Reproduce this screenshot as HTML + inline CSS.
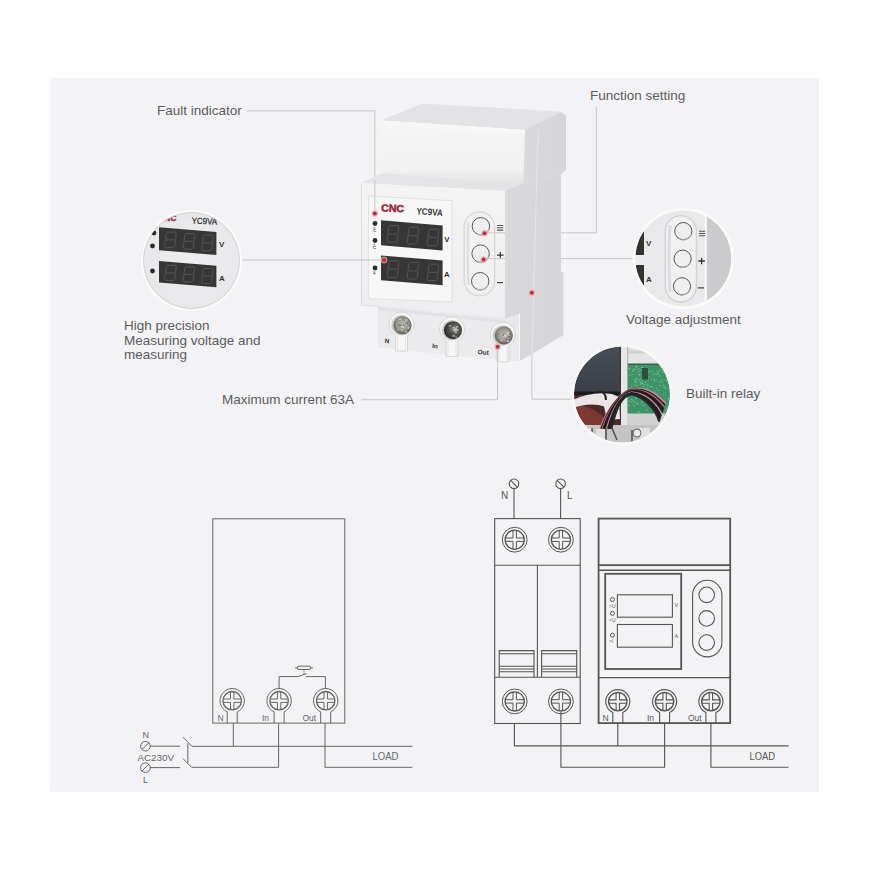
<!DOCTYPE html>
<html><head><meta charset="utf-8">
<style>
html,body{margin:0;padding:0;background:#fff;width:870px;height:870px;overflow:hidden}
svg{position:absolute;left:0;top:0}
text{font-family:"Liberation Sans",sans-serif}
</style></head><body>
<svg width="870" height="870" viewBox="0 0 870 870">
<defs>
  <linearGradient id="gSide" x1="0" y1="0" x2="1" y2="0">
    <stop offset="0" stop-color="#d9d9db"/><stop offset="1" stop-color="#d6d6d8"/>
  </linearGradient>
  <linearGradient id="gUpFront" x1="0" y1="0" x2="0" y2="1">
    <stop offset="0" stop-color="#f6f6f7"/><stop offset="0.8" stop-color="#f1f1f2"/><stop offset="1" stop-color="#e3e3e5"/>
  </linearGradient>
  <linearGradient id="gLowFront" x1="0" y1="0" x2="0" y2="1">
    <stop offset="0" stop-color="#f4f4f5"/><stop offset="1" stop-color="#eeeef0"/>
  </linearGradient>
  <radialGradient id="gCircle" cx="0.5" cy="0.5" r="0.5">
    <stop offset="0" stop-color="#eeeef0"/><stop offset="1" stop-color="#e8e8ea"/>
  </radialGradient>
  <radialGradient id="gScrew" cx="0.5" cy="0.45" r="0.55">
    <stop offset="0" stop-color="#b8b8b0"/><stop offset="0.6" stop-color="#9a9a92"/><stop offset="1" stop-color="#55554f"/>
  </radialGradient>
  <radialGradient id="gScrewD" cx="0.6" cy="0.45" r="0.6">
    <stop offset="0" stop-color="#a8a8a2"/><stop offset="0.45" stop-color="#5a5a56"/><stop offset="1" stop-color="#262624"/>
  </radialGradient>
  <linearGradient id="gDark" x1="0" y1="0" x2="0" y2="1">
    <stop offset="0" stop-color="#4a5058"/><stop offset="1" stop-color="#3a3f47"/>
  </linearGradient>
  <filter id="fSoft" x="-5%" y="-5%" width="110%" height="110%"><feGaussianBlur stdDeviation="0.45"/></filter>
  <clipPath id="cL"><circle cx="191.5" cy="260.5" r="48"/></clipPath>
  <clipPath id="cR"><circle cx="683.3" cy="258.5" r="48"/></clipPath>
  <clipPath id="cB"><circle cx="622" cy="394.6" r="48"/></clipPath>
</defs>
<rect x="50" y="78" width="769" height="714" fill="#f3f3f5"/>

<g stroke="#c6c6c8" stroke-width="1" fill="none">
<polyline points="246.5,110.9 374.8,110.9 374.8,212"/>
<polyline points="240,260 382,260"/>
<polyline points="361,399.7 497.6,399.7 497.6,349"/>
<polyline points="486,232.8 596.3,232.8 596.3,106.6"/>
<polyline points="486,258.6 635,258.6"/>
<polyline points="531.8,295 531.8,399.2 574,399.2"/>
</g>
<g id="device">
<polygon points="381,120.5 422,103.4 559,111.5 564,114 525,130" fill="#e3e3e5"/>
<polygon points="381,120.5 525,130 523.5,183 381,173.4" fill="url(#gUpFront)"/>
<polygon points="381,120.5 525,130 525,134 381,125" fill="#f8f8f9"/>
<polygon points="525,130 561,112 566,115.5 566,170 561,174.6 523.5,183" fill="url(#gSide)"/>
<polygon points="361,183 381,173.4 523.5,183 505,191" fill="#e4e4e6"/>
<polygon points="505,191 523.5,183 561,174.6 561,272 563.5,272 563.5,335 521,360.5 505,360.5" fill="url(#gSide)"/>
<polygon points="361,183 505,191 505,319 361,305" fill="url(#gLowFront)"/>
<polyline points="361.5,184 361.5,305 505,319" fill="none" stroke="#dedee0" stroke-width="1"/>
<polygon points="368.6,196 452,200.7 452,302 368.6,298.6" fill="#f7f7f8" stroke="#dcdcde" stroke-width="0.8"/>
<polygon points="378,305 505,319 520,314 520,360.5 505,360.5 378,347.5" fill="#ebebed"/>
<polygon points="505,319 520,314 520,360.5 505,360.5" fill="#e9e9eb"/>
<line x1="519.5" y1="314" x2="519.5" y2="360" stroke="#f7f7f8" stroke-width="1"/>
<polygon points="378,307 505,320 505,323 378,310" fill="#e2e2e4"/>
<path d="M395.5,351.0145 V335.3 A12.4,12.4 0 1 1 407.5,335.3 V351.0145 Z" fill="#f6f6f7" stroke="#d2d2d4" stroke-width="0.9"/>
<path d="M397.5,350.0145 V336.3 M405.5,336.3 V350.0145" stroke="#dedee0" stroke-width="0.8"/>
<circle cx="401.5" cy="325.3" r="10.2" fill="#c9c9cb"/>
<circle cx="402.5" cy="325.3" r="9" fill="url(#gScrew)"/>
<path d="M405.2,320.0h2.2M396.9,329.8h1.3M405.2,331.8h2.0M407.6,327.8h2.0M398.6,319.2h2.4M401.0,330.1h1.2M401.3,325.1h1.7M401.0,326.6h2.3M403.7,320.8h2.1M402.5,327.3h1.5" stroke="#e6e6de" stroke-width="1.3" opacity="0.75"/>
<path d="M399.3,325.3h1.4M403.8,320.4h1.4M402.4,325.3h1.4M400.8,325.0h1.4M406.5,323.4h1.4M398.6,325.1h1.4" stroke="#3c3c38" stroke-width="1.2" opacity="0.6"/>
<path d="M446,356.418 V340.2 A12.4,12.4 0 1 1 458,340.2 V356.418 Z" fill="#f6f6f7" stroke="#d2d2d4" stroke-width="0.9"/>
<path d="M448,355.418 V341.2 M456,341.2 V355.418" stroke="#dedee0" stroke-width="0.8"/>
<circle cx="452" cy="330.2" r="10.2" fill="#c9c9cb"/>
<circle cx="453" cy="330.2" r="9" fill="url(#gScrewD)"/>
<path d="M452.9,327.7h1.5M454.3,329.5h1.8M456.0,326.7h1.7M456.7,330.1h1.4M455.2,332.4h2.2M452.5,336.0h2.1M455.4,329.4h2.0M448.9,325.8h1.9M454.0,330.6h1.3M455.5,337.1h1.4" stroke="#e6e6de" stroke-width="1.3" opacity="0.75"/>
<path d="M450.3,334.3h1.4M453.5,325.0h1.4M452.7,333.2h1.4M458.4,328.5h1.4M456.7,332.3h1.4M451.3,332.8h1.4" stroke="#3c3c38" stroke-width="1.2" opacity="0.6"/>
<path d="M496.8,361.85360000000003 V345.5 A12.4,12.4 0 1 1 508.8,345.5 V361.85360000000003 Z" fill="#f6f6f7" stroke="#d2d2d4" stroke-width="0.9"/>
<path d="M498.8,360.85360000000003 V346.5 M506.8,346.5 V360.85360000000003" stroke="#dedee0" stroke-width="0.8"/>
<circle cx="502.8" cy="335.5" r="10.2" fill="#c9c9cb"/>
<circle cx="503.8" cy="335.5" r="9" fill="url(#gScrew)"/>
<path d="M500.2,340.4h2.0M507.0,341.3h2.3M503.4,335.9h1.5M503.3,334.9h1.5M506.8,332.5h1.9M504.3,335.6h1.9M507.3,332.8h1.7M504.6,336.1h1.4M504.0,335.8h2.5M507.7,334.7h1.4" stroke="#e6e6de" stroke-width="1.3" opacity="0.75"/>
<path d="M502.5,335.5h1.4M508.5,336.7h1.4M503.1,333.9h1.4M505.6,339.0h1.4M509.2,333.9h1.4M497.2,334.0h1.4" stroke="#3c3c38" stroke-width="1.2" opacity="0.6"/>
<text x="384.5" y="343" font-size="6.5" font-weight="bold" fill="#333" transform="rotate(5 384.5 343)">N</text>
<text x="432" y="348" font-size="6.5" font-weight="bold" fill="#333" transform="rotate(5 432 348)">In</text>
<text x="477.5" y="354" font-size="6.5" font-weight="bold" fill="#333" transform="rotate(5 477.5 354)">Out</text>
<polygon points="381,220.3 442.6,225.5 442.6,250.39999999999998 381,245.2" fill="#363636"/>
<path d="M390.0,225.7L398.0,225.7M398.8,227.0L398.1,233.2M397.9,234.8L397.2,240.9M388.0,242.2L396.0,242.2M387.9,234.8L387.2,240.9M388.8,227.0L388.1,233.2M389.0,234.0L397.0,234.0M410.0,227.4L418.0,227.4M418.8,228.7L418.1,234.8M417.9,236.5L417.2,242.6M408.0,243.9L416.0,243.9M407.9,236.5L407.2,242.6M408.8,228.7L408.1,234.8M409.0,235.7L417.0,235.7M430.0,229.1L438.0,229.1M438.8,230.4L438.1,236.5M437.9,238.2L437.2,244.3M428.0,245.6L436.0,245.6M427.9,238.2L427.2,244.3M428.8,230.4L428.1,236.5M429.0,237.4L437.0,237.4" stroke="#505050" stroke-width="1.2" fill="none" stroke-linecap="round"/>
<polygon points="381,255.5 442.6,260.5 442.6,285.3 381,280.3" fill="#363636"/>
<path d="M390.0,260.9L398.0,260.9M398.8,262.2L398.1,268.3M397.9,270.0L397.2,276.1M388.0,277.4L396.0,277.4M387.9,270.0L387.2,276.1M388.8,262.2L388.1,268.3M389.0,269.1L397.0,269.1M410.0,262.5L418.0,262.5M418.8,263.8L418.1,269.9M417.9,271.6L417.2,277.7M408.0,279.0L416.0,279.0M407.9,271.6L407.2,277.7M408.8,263.8L408.1,269.9M409.0,270.8L417.0,270.8M430.0,264.1L438.0,264.1M438.8,265.5L438.1,271.6M437.9,273.2L437.2,279.3M428.0,280.6L436.0,280.6M427.9,273.2L427.2,279.3M428.8,265.5L428.1,271.6M429.0,272.4L437.0,272.4" stroke="#505050" stroke-width="1.2" fill="none" stroke-linecap="round"/>
<text x="381" y="211.5" font-size="10.4" font-weight="bold" fill="#9e2638" stroke="#9e2638" stroke-width="0.5" textLength="23"  lengthAdjust="spacingAndGlyphs" transform="rotate(2 381 211.5)">CNC</text>
<text x="416.2" y="214.2" font-size="9.4" font-weight="bold" fill="#333" textLength="26.4" lengthAdjust="spacingAndGlyphs" transform="rotate(4 416 214)">YC9VA</text>
<text x="444.3" y="241.5" font-size="7.8" font-weight="bold" fill="#333">V</text>
<text x="444" y="277" font-size="7.8" font-weight="bold" fill="#333">A</text>
<circle cx="375" cy="223.5" r="2.4" fill="#2e2e2e"/>
<text x="372.4" y="231.0" font-size="4.2" fill="#444" font-weight="bold" transform="rotate(90 375 229.0)">&gt;U</text>
<circle cx="375" cy="240.5" r="2.4" fill="#2e2e2e"/>
<text x="372.4" y="248.0" font-size="4.2" fill="#444" font-weight="bold" transform="rotate(90 375 246.0)">&lt;U</text>
<circle cx="375" cy="268" r="2.4" fill="#2e2e2e"/>
<text x="372.4" y="275.5" font-size="4.2" fill="#444" font-weight="bold" transform="rotate(90 375 273.5)">&gt;I</text>
<rect x="464.2" y="211.9" width="30.5" height="83.9" rx="15.2" fill="#f1f1f2" stroke="#d6d6d8" stroke-width="1.3"/>
<path d="M468.5,222 Q467,253 468.5,285" stroke="#dfdfe1" stroke-width="2.5" fill="none"/>
<circle cx="480.9" cy="226.2" r="8.7" fill="#efeff0" stroke="#5a5a5a" stroke-width="1"/>
<path d="M488.9,229.7 A8.7,8.7 0 0 1 477.9,234.39999999999998" stroke="#b8b8b8" stroke-width="1.2" fill="none"/>
<circle cx="480.6" cy="253.6" r="8.7" fill="#efeff0" stroke="#5a5a5a" stroke-width="1"/>
<path d="M488.6,257.1 A8.7,8.7 0 0 1 477.6,261.8" stroke="#b8b8b8" stroke-width="1.2" fill="none"/>
<circle cx="480.2" cy="281.2" r="8.7" fill="#efeff0" stroke="#5a5a5a" stroke-width="1"/>
<path d="M488.2,284.7 A8.7,8.7 0 0 1 477.2,289.4" stroke="#b8b8b8" stroke-width="1.2" fill="none"/>
<path d="M497,225.5 h6.3 M497,227.8 h6.3 M497,230.1 h6.3" stroke="#555" stroke-width="1.1"/>
<path d="M497,255.2 h6.6 M500.3,252 v6.4" stroke="#333" stroke-width="1.2"/>
<path d="M497,282.6 h6" stroke="#444" stroke-width="1.2"/>
</g>
<g stroke="#c6c6c8" stroke-width="1" fill="none">
<line x1="374.8" y1="180" x2="374.8" y2="212"/>
<line x1="361" y1="260" x2="382" y2="260"/>
<line x1="486" y1="232.8" x2="505" y2="232.8"/>
<line x1="486" y1="258.6" x2="505" y2="258.6"/>
<line x1="497.6" y1="349" x2="497.6" y2="361"/>
</g>
<line x1="538" y1="130" x2="532" y2="360" stroke="#e4e4e6" stroke-width="1"/>
<circle cx="374.8" cy="213.6" r="3.4" fill="#f0a8a8" opacity="0.7"/>
<circle cx="374.8" cy="213.6" r="2" fill="#b83040"/>
<circle cx="384" cy="260" r="3.4" fill="#f0a8a8" opacity="0.7"/>
<circle cx="384" cy="260" r="2" fill="#b83040"/>
<circle cx="484.5" cy="233.2" r="3.4" fill="#f0a8a8" opacity="0.7"/>
<circle cx="484.5" cy="233.2" r="2" fill="#b83040"/>
<circle cx="483.6" cy="259.6" r="3.4" fill="#f0a8a8" opacity="0.7"/>
<circle cx="483.6" cy="259.6" r="2" fill="#b83040"/>
<circle cx="531.8" cy="292.7" r="3.4" fill="#f0a8a8" opacity="0.7"/>
<circle cx="531.8" cy="292.7" r="2" fill="#b83040"/>
<circle cx="497.6" cy="346.7" r="3.4" fill="#f0a8a8" opacity="0.7"/>
<circle cx="497.6" cy="346.7" r="2" fill="#b83040"/>
<g clip-path="url(#cL)">
<circle cx="191.5" cy="260.5" r="48" fill="url(#gCircle)"/>
<polygon points="159,227.2 216.4,232.0 216.4,255.0 159,250.2" fill="#363636"/>
<path d="M167.5,232.1L175.5,232.1M176.3,233.3L175.6,239.1M175.4,240.6L174.7,246.3M165.5,247.6L173.5,247.6M165.4,240.6L164.7,246.3M166.3,233.3L165.6,239.1M166.5,239.8L174.5,239.8M186.0,233.6L194.0,233.6M194.8,234.9L194.1,240.6M193.9,242.2L193.2,247.9M184.0,249.1L192.0,249.1M183.9,242.2L183.2,247.9M184.8,234.9L184.1,240.6M185.0,241.4L193.0,241.4M204.5,235.2L212.5,235.2M213.3,236.4L212.6,242.1M212.4,243.7L211.7,249.4M202.5,250.7L210.5,250.7M202.4,243.7L201.7,249.4M203.3,236.4L202.6,242.1M203.5,242.9L211.5,242.9" stroke="#505050" stroke-width="1.2" fill="none" stroke-linecap="round"/>
<polygon points="159,261 216.4,265.8 216.4,287.3 159,282.5" fill="#363636"/>
<path d="M167.5,265.4L175.5,265.4M176.3,266.6L175.6,272.1M175.4,273.6L174.7,279.2M165.5,280.4L173.5,280.4M165.4,273.6L164.7,279.2M166.3,266.6L165.6,272.1M166.5,272.9L174.5,272.9M186.0,266.9L194.0,266.9M194.8,268.1L194.1,273.7M193.9,275.2L193.2,280.7M184.0,281.9L192.0,281.9M183.9,275.2L183.2,280.7M184.8,268.1L184.1,273.7M185.0,274.4L193.0,274.4M204.5,268.5L212.5,268.5M213.3,269.7L212.6,275.2M212.4,276.7L211.7,282.3M202.5,283.5L210.5,283.5M202.4,276.7L201.7,282.3M203.3,269.7L202.6,275.2M203.5,276.0L211.5,276.0" stroke="#505050" stroke-width="1.2" fill="none" stroke-linecap="round"/>
<text x="191.5" y="223.5" font-size="8.8" fill="#333" stroke="#333" stroke-width="0.25" textLength="25.5" lengthAdjust="spacingAndGlyphs" transform="rotate(3 191.5 223)">YC9VA</text>
<text x="164" y="221" font-size="8.5" font-weight="bold" fill="#9e2638" stroke="#9e2638" stroke-width="0.4">NC</text>
<text x="219" y="247" font-size="8" font-weight="bold" fill="#333">V</text>
<text x="219" y="281" font-size="8" font-weight="bold" fill="#333">A</text>
<circle cx="154" cy="233" r="2.4" fill="#2a2a2a"/>
<circle cx="152.5" cy="246" r="2.4" fill="#2a2a2a"/>
<circle cx="152.5" cy="271" r="2.4" fill="#2a2a2a"/>
</g>
<circle cx="191.5" cy="260.5" r="49.3" fill="none" stroke="#fbfbfc" stroke-width="2.2"/>
<circle cx="191.5" cy="260.5" r="48" fill="none" stroke="#cdcdcf" stroke-width="0.9"/>
<g clip-path="url(#cR)">
<circle cx="683.3" cy="258.5" r="48" fill="#e9e9eb"/>
<rect x="706.7" y="205" width="30" height="110" fill="#cbcbcd"/>
<rect x="704.5" y="205" width="2.4" height="110" fill="#f8f8f9"/>
<polygon points="630,232 644,230 644,255 630,255" fill="#333"/>
<polygon points="630,265 644,265 644,285 630,286" fill="#333"/>
<text x="646" y="246" font-size="8" font-weight="bold" fill="#333">V</text>
<text x="646" y="282" font-size="8" font-weight="bold" fill="#333">A</text>
<rect x="665.3" y="215.7" width="31.1" height="86.3" rx="15.5" fill="#f1f1f2" stroke="#d2d2d4" stroke-width="1.4"/>
<path d="M670,225 Q668,258 670,292" stroke="#dcdcde" stroke-width="3" fill="none"/>
<circle cx="683.3" cy="231.1" r="8.6" fill="#efeff0" stroke="#555" stroke-width="1"/>
<path d="M691.3,234.6 A8.6,8.6 0 0 1 680.3,239.2" stroke="#a8a8a8" stroke-width="1.2" fill="none"/>
<circle cx="682.6" cy="258.7" r="8.6" fill="#efeff0" stroke="#555" stroke-width="1"/>
<path d="M690.6,262.2 A8.6,8.6 0 0 1 679.6,266.8" stroke="#a8a8a8" stroke-width="1.2" fill="none"/>
<circle cx="682" cy="286.3" r="8.6" fill="#efeff0" stroke="#555" stroke-width="1"/>
<path d="M690,289.8 A8.6,8.6 0 0 1 679,294.40000000000003" stroke="#a8a8a8" stroke-width="1.2" fill="none"/>
<path d="M699,231.3 h6.3 M699,233.5 h6.3 M699,235.7 h6.3" stroke="#555" stroke-width="1.1"/>
<path d="M698.3,261 h6.6 M701.6,257.7 v6.6" stroke="#333" stroke-width="1.3"/>
<path d="M697.8,287.8 h6.2" stroke="#444" stroke-width="1.3"/>
</g>
<circle cx="683.3" cy="258.5" r="49.3" fill="none" stroke="#fbfbfc" stroke-width="2.4"/>
<g clip-path="url(#cB)" filter="url(#fSoft)">
<rect x="570" y="340" width="110" height="110" fill="#bdbdbd"/>
<rect x="570" y="340" width="51" height="52" fill="url(#gDark)"/>
<rect x="627" y="340" width="50" height="25" fill="#e4e4e4"/>
<rect x="627" y="350.5" width="50" height="3" fill="#d0d0d0"/>
<rect x="627" y="363.5" width="50" height="2" fill="#3e5a4a"/>
<rect x="627" y="365" width="50" height="49" fill="#3d9468"/>
<path d="M638.5,391.6h1.1M654.6,395.4h0.7M628.6,405.4h1.0M638.3,412.8h1.3M664.8,388.4h1.5M634.6,395.8h1.8M651.0,400.8h1.5M630.8,401.6h1.4M641.3,367.5h1.8M648.8,399.8h1.8M659.4,409.3h1.2M663.2,386.9h1.9M666.7,370.6h0.8M637.5,411.4h1.2M655.6,380.1h1.3M645.0,382.5h1.4M653.7,408.5h1.6M668.9,406.3h2.0M657.5,373.7h1.8M670.4,408.5h1.4M659.4,375.9h1.8M653.2,379.4h0.7M665.6,412.5h0.7M663.2,385.3h0.8M640.9,402.1h1.8M629.9,394.9h0.7M659.6,381.6h1.8M671.1,389.8h2.0M641.6,369.6h1.4M629.4,375.3h1.2M654.9,373.3h0.7M666.2,380.8h1.9M667.5,383.8h1.2M650.9,396.3h1.4M652.6,395.1h1.9M650.3,386.3h1.6M638.5,380.2h2.0M650.9,391.8h0.6M646.3,393.3h0.6M655.1,395.7h0.7M655.6,387.9h1.6M643.5,399.2h1.6M629.0,368.8h1.5M670.4,377.8h1.2M654.1,381.0h1.1M641.8,383.4h1.4M641.2,383.7h1.7M629.2,392.8h1.6M641.6,376.5h1.7M638.5,374.8h1.2M658.7,370.8h1.1M642.7,405.2h1.2M665.6,374.0h1.1M656.6,407.6h1.2M637.9,371.7h1.3M636.4,403.9h1.8M636.1,379.1h1.7M656.2,403.9h1.1M633.7,379.7h1.7M639.9,382.3h1.2M646.5,385.2h1.9M634.9,366.2h1.9M666.7,412.4h1.2M669.8,409.6h0.9M660.8,405.3h1.5M650.8,379.6h1.1M638.0,369.2h1.4M640.6,404.1h0.7M667.8,398.6h1.9M667.4,408.3h1.4M628.6,401.0h0.8M641.2,397.2h1.3M646.2,410.1h1.5M643.0,377.9h1.8M649.0,402.8h1.1M636.7,391.1h1.7M635.5,403.2h1.9M663.5,404.7h0.6M655.7,406.5h0.7M639.9,378.6h1.3M646.6,388.2h1.7M628.1,368.6h0.8M633.5,369.2h2.0M665.6,370.0h1.3M641.9,380.8h1.1M656.5,393.6h1.1M636.4,381.5h0.8M652.4,399.7h1.1M631.5,374.4h1.1M654.6,402.8h1.1M663.3,395.3h1.2M644.4,389.3h1.6M646.5,398.6h1.2M638.8,391.2h1.6M631.1,386.0h1.2M666.7,410.0h1.1M667.5,403.2h1.0M648.4,371.8h1.7M657.1,407.7h1.7M657.4,400.5h1.4M632.5,393.6h0.6M634.3,402.4h0.7M632.0,370.7h1.8M635.9,367.1h1.8M633.3,405.7h1.5M664.8,410.8h1.4M663.1,367.7h1.7M650.5,399.6h0.7M661.0,409.9h0.7M642.3,392.5h1.8M638.7,374.4h0.9M655.1,401.4h1.2M644.2,384.6h1.1M646.4,369.9h1.3M670.8,385.4h1.6M635.1,398.5h1.7M657.6,390.3h1.3M656.3,408.2h0.8M632.2,401.2h1.9M650.8,386.8h1.6M636.2,378.6h0.9M653.8,380.8h0.9M658.4,410.8h1.0M659.0,385.4h1.8M653.7,378.6h0.9M629.0,388.5h1.1M635.6,382.9h1.1M662.1,372.7h2.0M649.1,394.2h1.3M664.7,404.6h1.4M649.2,399.9h1.8M645.6,400.5h1.9M648.6,376.8h0.9M659.6,397.7h1.9M665.6,377.4h0.9M639.4,374.8h1.6M665.8,408.3h1.0M666.1,380.7h1.2M660.1,370.0h0.7M664.7,379.7h1.1M653.5,397.7h0.6M642.7,386.5h1.3M637.2,393.5h1.9M645.2,391.6h0.8M640.1,397.3h0.8M667.0,408.7h0.7M669.4,383.6h1.7M661.3,379.9h1.5M656.8,403.9h1.0M661.2,411.2h1.5M651.6,371.3h1.3M643.5,399.8h1.5M652.9,374.6h1.5M655.8,374.4h1.8M656.8,371.8h1.9M634.2,381.6h1.6M654.3,392.1h1.5M648.1,380.7h0.8M631.0,399.6h1.7M651.9,400.8h1.1M639.7,384.0h1.8M629.9,389.7h0.9M661.8,382.6h1.1M645.7,391.5h1.7M643.5,405.8h0.8M639.9,370.7h0.8M662.3,400.2h0.9M636.3,385.6h1.6M663.9,401.2h1.4M634.4,384.7h0.9" stroke="#8fcaa6" stroke-width="0.8"/>
<rect x="642" y="368" width="6" height="11.5" fill="#2f5040"/>
<rect x="650" y="398" width="5" height="8" fill="#2f4a3c"/>
<rect x="619.5" y="340" width="1.6" height="110" fill="#3a3a3a"/>
<rect x="621" y="340" width="6.5" height="110" fill="#e6e6e6"/>
<rect x="627.3" y="340" width="0.8" height="110" fill="#a0a0a0"/>
<rect x="570" y="391.5" width="50" height="3.5" fill="#1c1c1c"/>
<rect x="570" y="395" width="50" height="32" fill="#4e2a28"/>
<path d="M572,406 C585,404 596,410 604,418 L602,427 L572,427Z" fill="#7e3833"/>
<path d="M573,400 C585,394 598,392 612,394 L619,397 L620,408 L606,407 C595,403 584,404 573,408 Z" fill="#ebe4e4"/>
<path d="M603,396 L619,398 L620,419 L607,420 C605,411 603,403 603,396Z" fill="#efe6e8"/>
<path d="M607,418 C612,410 616,402 620,398" stroke="#d890a0" stroke-width="3" fill="none"/>
<path d="M598,392 C603,391 606,394 606,400" stroke="#222" stroke-width="2" fill="none"/>
<rect x="627" y="413.5" width="50" height="12" fill="#d2d2d2"/>
<rect x="570" y="425" width="110" height="25" fill="#c4c4c4"/>
<path d="M584,428 h8 v14 h-8z M596,429 h9 v12 h-9z M640,428 h10 v12 h-10z" fill="#e2e2e2"/>
<path d="M592,428 v14 M606,429 v12 M612,428 l5,12 M632,430 v12" stroke="#555" stroke-width="1.6" fill="none"/>
<circle cx="637" cy="433" r="4" fill="#e8e8e8" stroke="#666" stroke-width="1"/>
<g fill="none" stroke-linecap="round">
<path d="M600.5,428 C606.5,412 615.0,398.0 629.5,389.5 C645,386.5 654.0,392.0 665.0,403.0" stroke="#d88a9a" stroke-width="2.1"/>
<path d="M601.6,428 C607.4,412 615.6,397.6 629.8,390.0 C645,387.6 654.2,393.8 664.4,404.8" stroke="#1d1d1d" stroke-width="2.1"/>
<path d="M602.7,428 C608.3,412 616.2,397.2 630.1,390.5 C645,388.7 654.4,395.6 663.8,406.6" stroke="#c06878" stroke-width="2.1"/>
<path d="M603.8,428 C609.2,412 616.8,396.8 630.4,391.0 C645,389.8 654.6,397.4 663.2,408.4" stroke="#222" stroke-width="2.1"/>
<path d="M604.9,428 C610.1,412 617.4,396.4 630.7,391.5 C645,390.9 654.8,399.2 662.6,410.2" stroke="#1a1a1a" stroke-width="2.1"/>
<path d="M606.0,428 C611.0,412 618.0,396.0 631.0,392.0 C645,392.0 655.0,401.0 662.0,412.0" stroke="#2b2b2b" stroke-width="2.1"/>
<path d="M607.1,428 C611.9,412 618.6,395.6 631.3,392.5 C645,393.1 655.2,402.8 661.4,413.8" stroke="#e09aa8" stroke-width="2.1"/>
<path d="M608.2,428 C612.8,412 619.2,395.2 631.6,393.0 C645,394.2 655.4,404.6 660.8,415.6" stroke="#202020" stroke-width="2.1"/>
<path d="M609.3,428 C613.7,412 619.8,394.8 631.9,393.5 C645,395.3 655.6,406.4 660.2,417.4" stroke="#262626" stroke-width="2.1"/>
<path d="M610.4,428 C614.6,412 620.4,394.4 632.2,394.0 C645,396.4 655.8,408.2 659.6,419.2" stroke="#1e1e1e" stroke-width="2.1"/>
<path d="M611.5,428 C615.5,412 621.0,394.0 632.5,394.5 C645,397.5 656.0,410.0 659.0,421.0" stroke="#2a2a2a" stroke-width="2.1"/>
</g>
</g>
<circle cx="622" cy="394.6" r="49.2" fill="none" stroke="#f9f9fa" stroke-width="2.4"/>
<text x="157" y="115" font-size="13.5" fill="#5c5c5c">Fault indicator</text>
<text x="590" y="100" font-size="13.5" fill="#5c5c5c">Function setting</text>
<text x="124" y="330" font-size="13.5" fill="#5c5c5c">High precision</text>
<text x="124" y="345" font-size="13.5" fill="#5c5c5c">Measuring voltage and</text>
<text x="124" y="359" font-size="13.5" fill="#5c5c5c">measuring</text>
<text x="222" y="404.3" font-size="13.5" fill="#5c5c5c">Maximum current 63A</text>
<text x="626" y="324.3" font-size="13.5" fill="#5c5c5c">Voltage adjustment</text>
<text x="686" y="397.8" font-size="13.5" fill="#5c5c5c">Built-in relay</text>
<g stroke="#666" stroke-width="1" fill="none">
<rect x="212.8" y="518.8" width="132" height="204.3"/>
<polyline points="279.1,688.5 279.1,676.6 298,676.6 306.7,673.6"/>
<polyline points="306,676.6 325.4,676.6 325.4,688.5"/>
<rect x="297.3" y="666.1" width="13.4" height="3.4" rx="1.7"/>
<line x1="295" y1="667.8" x2="297.3" y2="667.8"/><line x1="310.7" y1="667.8" x2="313" y2="667.8"/>
<line x1="304" y1="670.5" x2="304" y2="674" stroke-dasharray="1.2 1"/>
</g>
<path d="M227.20,723.1 V711.83 A12.2,12.2 0 1 1 237.20,711.83 V723.1" fill="none" stroke="#666" stroke-width="1.0"/>
<circle cx="232.2" cy="700.7" r="9.2" fill="none" stroke="#666" stroke-width="1.35"/>
<path d="M223.0,699.0H230.5V691.5M233.9,691.5V699.0H241.4M241.4,702.4H233.9V709.9M230.5,709.9V702.4H223.0" stroke="#666" stroke-width="1.0" fill="none"/>
<path d="M274.10,723.1 V711.83 A12.2,12.2 0 1 1 284.10,711.83 V723.1" fill="none" stroke="#666" stroke-width="1.0"/>
<circle cx="279.1" cy="700.7" r="9.2" fill="none" stroke="#666" stroke-width="1.35"/>
<path d="M269.9,699.0H277.4V691.5M280.8,691.5V699.0H288.3M288.3,702.4H280.8V709.9M277.4,709.9V702.4H269.9" stroke="#666" stroke-width="1.0" fill="none"/>
<path d="M320.70,723.1 V711.83 A12.2,12.2 0 1 1 330.70,711.83 V723.1" fill="none" stroke="#666" stroke-width="1.0"/>
<circle cx="325.7" cy="700.7" r="9.2" fill="none" stroke="#666" stroke-width="1.35"/>
<path d="M316.5,699.0H324.0V691.5M327.4,691.5V699.0H334.9M334.9,702.4H327.4V709.9M324.0,709.9V702.4H316.5" stroke="#666" stroke-width="1.0" fill="none"/>
<g stroke="#666" stroke-width="1" fill="none">
<polyline points="233.3,723 233.3,746.3"/>
<polyline points="192,746.3 412.4,746.3"/>
<polyline points="192,767.3 278.6,767.3 278.6,723"/>
<polyline points="325,723 325,767.3 412.4,767.3"/>
<line x1="150.2" y1="746.2" x2="180.2" y2="746.2"/><line x1="150.2" y1="767.6" x2="180.2" y2="767.6"/>
<line x1="183" y1="737.2" x2="191.9" y2="746.2"/><line x1="183" y1="758.6" x2="191.9" y2="767.6"/>
<line x1="187.8" y1="743.4" x2="187.8" y2="762.8"/>
<circle cx="145.4" cy="746.2" r="4.8"/><circle cx="145.4" cy="767.6" r="4.8"/>
<line x1="142" y1="749.6" x2="148.8" y2="742.8"/><line x1="142" y1="771" x2="148.8" y2="764.2"/>
</g>
<text x="217.5" y="720.5" font-size="8.5" fill="#666">N</text>
<text x="262" y="720.5" font-size="8.5" fill="#666">In</text>
<text x="302.5" y="720.5" font-size="8.5" fill="#666">Out</text>
<text x="142.5" y="738" font-size="9" fill="#666">N</text>
<text x="137.5" y="761" font-size="9" fill="#666" textLength="36.5" lengthAdjust="spacingAndGlyphs">AC230V</text>
<text x="143" y="782.8" font-size="9" fill="#666">L</text>
<text x="372.5" y="760.2" font-size="10" fill="#666" textLength="26" lengthAdjust="spacingAndGlyphs">LOAD</text>
<g stroke="#555" stroke-width="1.1" fill="none">
<rect x="494.7" y="518.6" width="85.5" height="204.9"/>
<line x1="494.7" y1="565.2" x2="580.2" y2="565.2"/>
<line x1="494.7" y1="677.2" x2="580.2" y2="677.2"/>
<line x1="537.4" y1="565.2" x2="537.4" y2="677.2"/>
<path d="M499.2,677.2 V650.6 H534 V677.2 M499.2,653.8 H534 M499.2,666.2 H534 M499.2,669 H534 M499.2,671.7 H534"/>
<path d="M541.6,677.2 V650.6 H576.7 V677.2 M541.6,653.8 H576.7 M541.6,666.2 H576.7 M541.6,669 H576.7 M541.6,671.7 H576.7"/>
<line x1="514" y1="488.6" x2="514" y2="518.6"/><line x1="560.6" y1="488.6" x2="560.6" y2="518.6"/>
<circle cx="514" cy="483.8" r="4.8"/><circle cx="560.6" cy="483.8" r="4.8"/>
<line x1="510.6" y1="480.4" x2="517.4" y2="487.2"/><line x1="557.2" y1="480.4" x2="564" y2="487.2"/>
</g>
<circle cx="514.7" cy="539.7" r="12.4" fill="none" stroke="#555" stroke-width="1.0"/>
<circle cx="514.7" cy="539.7" r="9.6" fill="none" stroke="#555" stroke-width="1.35"/>
<path d="M505.1,538.0H513.0V530.1M516.4,530.1V538.0H524.3M524.3,541.4H516.4V549.3M513.0,549.3V541.4H505.1" stroke="#555" stroke-width="1.0" fill="none"/>
<circle cx="560.9" cy="539.7" r="12.4" fill="none" stroke="#555" stroke-width="1.0"/>
<circle cx="560.9" cy="539.7" r="9.6" fill="none" stroke="#555" stroke-width="1.35"/>
<path d="M551.3,538.0H559.2V530.1M562.6,530.1V538.0H570.5M570.5,541.4H562.6V549.3M559.2,549.3V541.4H551.3" stroke="#555" stroke-width="1.0" fill="none"/>
<circle cx="514.7" cy="701.4" r="12.4" fill="none" stroke="#555" stroke-width="1.0"/>
<circle cx="514.7" cy="701.4" r="9.6" fill="none" stroke="#555" stroke-width="1.35"/>
<path d="M505.1,699.7H513.0V691.8M516.4,691.8V699.7H524.3M524.3,703.1H516.4V711.0M513.0,711.0V703.1H505.1" stroke="#555" stroke-width="1.0" fill="none"/>
<circle cx="560.9" cy="701.4" r="12.4" fill="none" stroke="#555" stroke-width="1.0"/>
<circle cx="560.9" cy="701.4" r="9.6" fill="none" stroke="#555" stroke-width="1.35"/>
<path d="M551.3,699.7H559.2V691.8M562.6,691.8V699.7H570.5M570.5,703.1H562.6V711.0M559.2,711.0V703.1H551.3" stroke="#555" stroke-width="1.0" fill="none"/>
<text x="501" y="499" font-size="10" fill="#555">N</text>
<text x="567" y="499" font-size="10" fill="#555">L</text>
<g stroke="#555" fill="none">
<rect x="598.6" y="518.6" width="131.6" height="204.5" stroke-width="1.8"/>
<line x1="598.6" y1="565.2" x2="730.2" y2="565.2" stroke-width="1.8"/>
<line x1="598.6" y1="570.2" x2="730.2" y2="570.2" stroke-width="1.4"/>
<line x1="598.6" y1="677.6" x2="730.2" y2="677.6" stroke-width="1.2"/>
<rect x="605.2" y="573.8" width="76" height="95.2" stroke-width="1.8"/>
<rect x="617.4" y="594.8" width="55" height="22.4" stroke-width="1.1"/>
<rect x="617.4" y="624.5" width="55" height="22.7" stroke-width="1.1"/>
<rect x="692.6" y="580.3" width="29.3" height="76.6" rx="14.6" stroke-width="1.1"/>
<circle cx="706.7" cy="594.8" r="7.8" stroke-width="1.1"/>
<circle cx="706.7" cy="618.4" r="7.8" stroke-width="1.1"/>
<circle cx="706.7" cy="642.6" r="7.8" stroke-width="1.1"/>
<circle cx="612.4" cy="599.5" r="2" stroke-width="1"/>
<circle cx="612.4" cy="613.3" r="2" stroke-width="1"/>
<circle cx="612.4" cy="635.2" r="2" stroke-width="1"/>
</g>
<text x="609" y="607.5" font-size="5" fill="#555">&gt;U</text>
<text x="609" y="621.5" font-size="5" fill="#555">&lt;U</text>
<text x="609" y="643" font-size="5" fill="#555">&gt;I</text>
<text x="674.5" y="607" font-size="5.5" fill="#555">V</text>
<text x="674.5" y="638" font-size="5.5" fill="#555">A</text>
<path d="M612.80,723.1 V712.51 A12,12 0 1 1 622.80,712.51 V723.1" fill="none" stroke="#555" stroke-width="1.1"/>
<circle cx="617.8" cy="701.6" r="9.2" fill="none" stroke="#555" stroke-width="1.4850000000000003"/>
<path d="M608.6,699.9H616.1V692.4M619.5,692.4V699.9H627.0M627.0,703.3H619.5V710.8M616.1,710.8V703.3H608.6" stroke="#555" stroke-width="1.1" fill="none"/>
<path d="M659.60,723.1 V712.51 A12,12 0 1 1 669.60,712.51 V723.1" fill="none" stroke="#555" stroke-width="1.1"/>
<circle cx="664.6" cy="701.6" r="9.2" fill="none" stroke="#555" stroke-width="1.4850000000000003"/>
<path d="M655.4,699.9H662.9V692.4M666.3,692.4V699.9H673.8M673.8,703.3H666.3V710.8M662.9,710.8V703.3H655.4" stroke="#555" stroke-width="1.1" fill="none"/>
<path d="M705.90,723.1 V712.51 A12,12 0 1 1 715.90,712.51 V723.1" fill="none" stroke="#555" stroke-width="1.1"/>
<circle cx="710.9" cy="701.6" r="9.2" fill="none" stroke="#555" stroke-width="1.4850000000000003"/>
<path d="M701.7,699.9H709.2V692.4M712.6,692.4V699.9H720.1M720.1,703.3H712.6V710.8M709.2,710.8V703.3H701.7" stroke="#555" stroke-width="1.1" fill="none"/>
<text x="602.5" y="720.6" font-size="8.5" fill="#555">N</text>
<text x="647" y="720.6" font-size="8.5" fill="#555">In</text>
<text x="688" y="720.6" font-size="8.5" fill="#555">Out</text>
<g stroke="#555" stroke-width="1.1" fill="none">
<polyline points="514.4,723.5 514.4,745.9 788.5,745.9"/>
<polyline points="560.9,712 560.9,767.2 664.6,767.2 664.6,723"/>
<line x1="617.8" y1="723" x2="617.8" y2="745.9"/>
<polyline points="710.9,723 710.9,767.2 788.5,767.2"/>
</g>
<text x="749.5" y="759.8" font-size="10" fill="#555" textLength="25.5" lengthAdjust="spacingAndGlyphs">LOAD</text>
</svg>
</body></html>
